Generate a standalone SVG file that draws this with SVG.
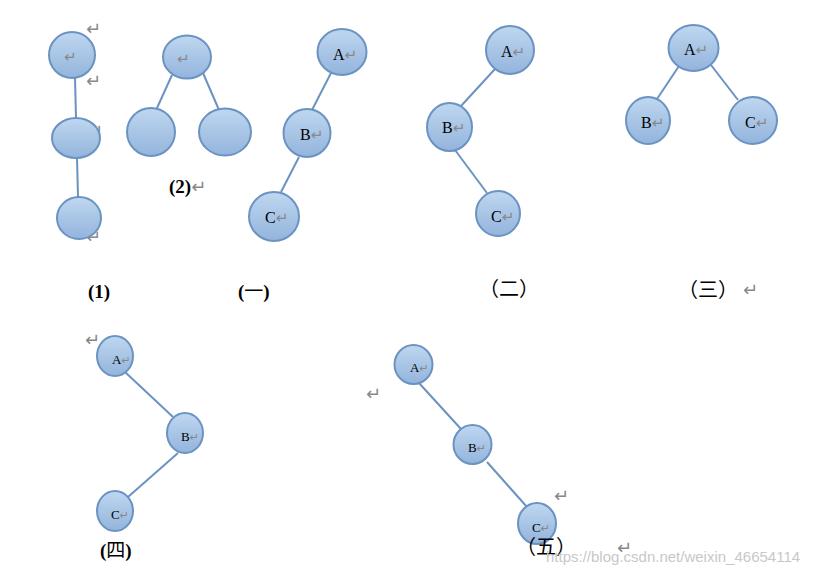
<svg xmlns="http://www.w3.org/2000/svg" width="825" height="576" viewBox="0 0 825 576">
<defs>
<linearGradient id="g" x1="0" y1="0" x2="0" y2="1">
<stop offset="0" stop-color="#bfd7f0"/>
<stop offset="1" stop-color="#93b4dc"/>
</linearGradient>
</defs>
<style>
.n{fill:url(#g);stroke:#6b93c2;stroke-width:2}
.e{stroke:#6b93c2;stroke-width:2;fill:none}
.t{font-family:"Liberation Serif","Times New Roman",serif;font-size:16px;fill:#000}
.s{font-family:"Liberation Serif","Times New Roman",serif;font-size:13px;fill:#000}
.r{font-family:"DejaVu Sans",sans-serif;font-size:18px;fill:#888;font-weight:normal}
.ri{font-family:"DejaVu Sans",sans-serif;font-size:15px;fill:#888}
.rs{font-family:"DejaVu Sans",sans-serif;font-size:11px;fill:#888}
.b{font-family:"Liberation Serif","Noto Sans CJK SC",serif;font-size:19px;font-weight:bold;fill:#000}
.k{font-family:"Noto Sans CJK SC",sans-serif;font-weight:normal}
.c{font-family:"Liberation Serif","Noto Sans CJK SC",serif;font-size:20px;fill:#000}
.w{font-family:"Liberation Sans",Arial,sans-serif;font-size:15px;fill:#c8c8c8}
</style>
<rect width="825" height="576" fill="#fff"/>
<g id="connectors">
<line class="e" x1="75" y1="78" x2="76" y2="118"/>
<line class="e" x1="77" y1="158" x2="78" y2="197"/>
<line class="e" x1="172" y1="75" x2="157" y2="108"/>
<line class="e" x1="203" y1="73" x2="219" y2="110"/>
<line class="e" x1="331" y1="73" x2="312" y2="110"/>
<line class="e" x1="299" y1="157" x2="281" y2="192"/>
<line class="e" x1="495" y1="69" x2="461" y2="106"/>
<line class="e" x1="455" y1="150" x2="487" y2="193"/>
<line class="e" x1="679" y1="66" x2="657" y2="99"/>
<line class="e" x1="711" y1="65" x2="738" y2="100"/>
<line class="e" x1="125" y1="372" x2="173" y2="417"/>
<line class="e" x1="178" y1="453" x2="128" y2="497"/>
<line class="e" x1="419" y1="383" x2="461" y2="429"/>
<line class="e" x1="487" y1="462" x2="527" y2="507"/>
</g>
<g id="marks">
<text class="r" x="86" y="35">↵</text>
<text class="r" x="86" y="87">↵</text>
<text class="r" x="88" y="137">↵</text>
<text class="r" x="86" y="243">↵</text>
</g>
<g id="d1-n1"><ellipse class="n" cx="72" cy="55" rx="23" ry="23"/><text class="ri" x="64" y="62">↵</text></g>
<g id="d1-n2"><ellipse class="n" cx="76" cy="138" rx="24" ry="20"/></g>
<g id="d1-n3"><ellipse class="n" cx="79" cy="218" rx="22" ry="21"/></g>
<g id="d2-n1"><ellipse class="n" cx="187" cy="57" rx="24" ry="21.5"/><text class="ri" x="177" y="64">↵</text></g>
<g id="d2-n2"><ellipse class="n" cx="151" cy="132" rx="24" ry="24"/></g>
<g id="d2-n3"><ellipse class="n" cx="225" cy="132" rx="26" ry="23.5"/></g>
<g id="d3-A"><ellipse class="n" cx="342" cy="52" rx="24.5" ry="23"/><text class="t" x="333" y="60">A<tspan class="ri">↵</tspan></text></g>
<g id="d3-B"><ellipse class="n" cx="307" cy="133" rx="23.5" ry="24"/><text class="t" x="300" y="140">B<tspan class="ri">↵</tspan></text></g>
<g id="d3-C"><ellipse class="n" cx="274" cy="216.5" rx="25" ry="24.5"/><text class="t" x="265" y="223">C<tspan class="ri">↵</tspan></text></g>
<g id="d4-A"><ellipse class="n" cx="510" cy="50" rx="24" ry="24"/><text class="t" x="501" y="57">A<tspan class="ri">↵</tspan></text></g>
<g id="d4-B"><ellipse class="n" cx="449.5" cy="127" rx="22.5" ry="24"/><text class="t" x="442" y="133">B<tspan class="ri">↵</tspan></text></g>
<g id="d4-C"><ellipse class="n" cx="498" cy="213.5" rx="22" ry="22.5"/><text class="t" x="491" y="222">C<tspan class="ri">↵</tspan></text></g>
<g id="d5-A"><ellipse class="n" cx="693.5" cy="48" rx="25" ry="23"/><text class="t" x="684" y="55">A<tspan class="ri">↵</tspan></text></g>
<g id="d5-B"><ellipse class="n" cx="648" cy="120.5" rx="22" ry="23.5"/><text class="t" x="641" y="128">B<tspan class="ri">↵</tspan></text></g>
<g id="d5-C"><ellipse class="n" cx="753" cy="120.5" rx="24" ry="23.5"/><text class="t" x="745" y="128">C<tspan class="ri">↵</tspan></text></g>
<g id="d6-A"><ellipse class="n" cx="115" cy="356" rx="18" ry="20"/><text class="s" x="112" y="364">A<tspan class="rs">↵</tspan></text></g>
<g id="d6-B"><ellipse class="n" cx="185" cy="433" rx="18" ry="20"/><text class="s" x="181" y="441">B<tspan class="rs">↵</tspan></text></g>
<g id="d6-C"><ellipse class="n" cx="115" cy="511" rx="18" ry="20"/><text class="s" x="111" y="519">C<tspan class="rs">↵</tspan></text></g>
<text class="r" x="85" y="346">↵</text>
<text class="r" x="366" y="400">↵</text>
<text class="r" x="554" y="502">↵</text>
<text class="r" x="617" y="554">↵</text>
<g id="d7-A"><ellipse class="n" cx="413.5" cy="364.5" rx="19" ry="19.5"/><text class="s" x="410" y="372">A<tspan class="rs">↵</tspan></text></g>
<g id="d7-B"><ellipse class="n" cx="472.5" cy="444.5" rx="19" ry="19.5"/><text class="s" x="468" y="452">B<tspan class="rs">↵</tspan></text></g>
<g id="d7-C"><ellipse class="n" cx="537" cy="523.5" rx="19" ry="20.5"/><text class="s" x="532" y="532">C<tspan class="rs">↵</tspan></text></g>
<g id="labels">
<text class="b" x="169" y="193">(2)<tspan class="r">↵</tspan></text>
<text class="b" x="88" y="298">(1)</text>
<text class="b" x="238" y="298">(<tspan class="k">一</tspan>)</text>
<text class="c" x="479" y="296">（二）</text>
<text class="c" x="678" y="297">（三）</text>
<text class="r" x="743" y="296">↵</text>
<text class="b" x="100" y="557">(<tspan class="k">四</tspan>)</text>
<text class="c" x="516" y="554">（五）</text>
</g>
<text class="w" x="546" y="562">https://blog.csdn.net/weixin_46654114</text>
</svg>
